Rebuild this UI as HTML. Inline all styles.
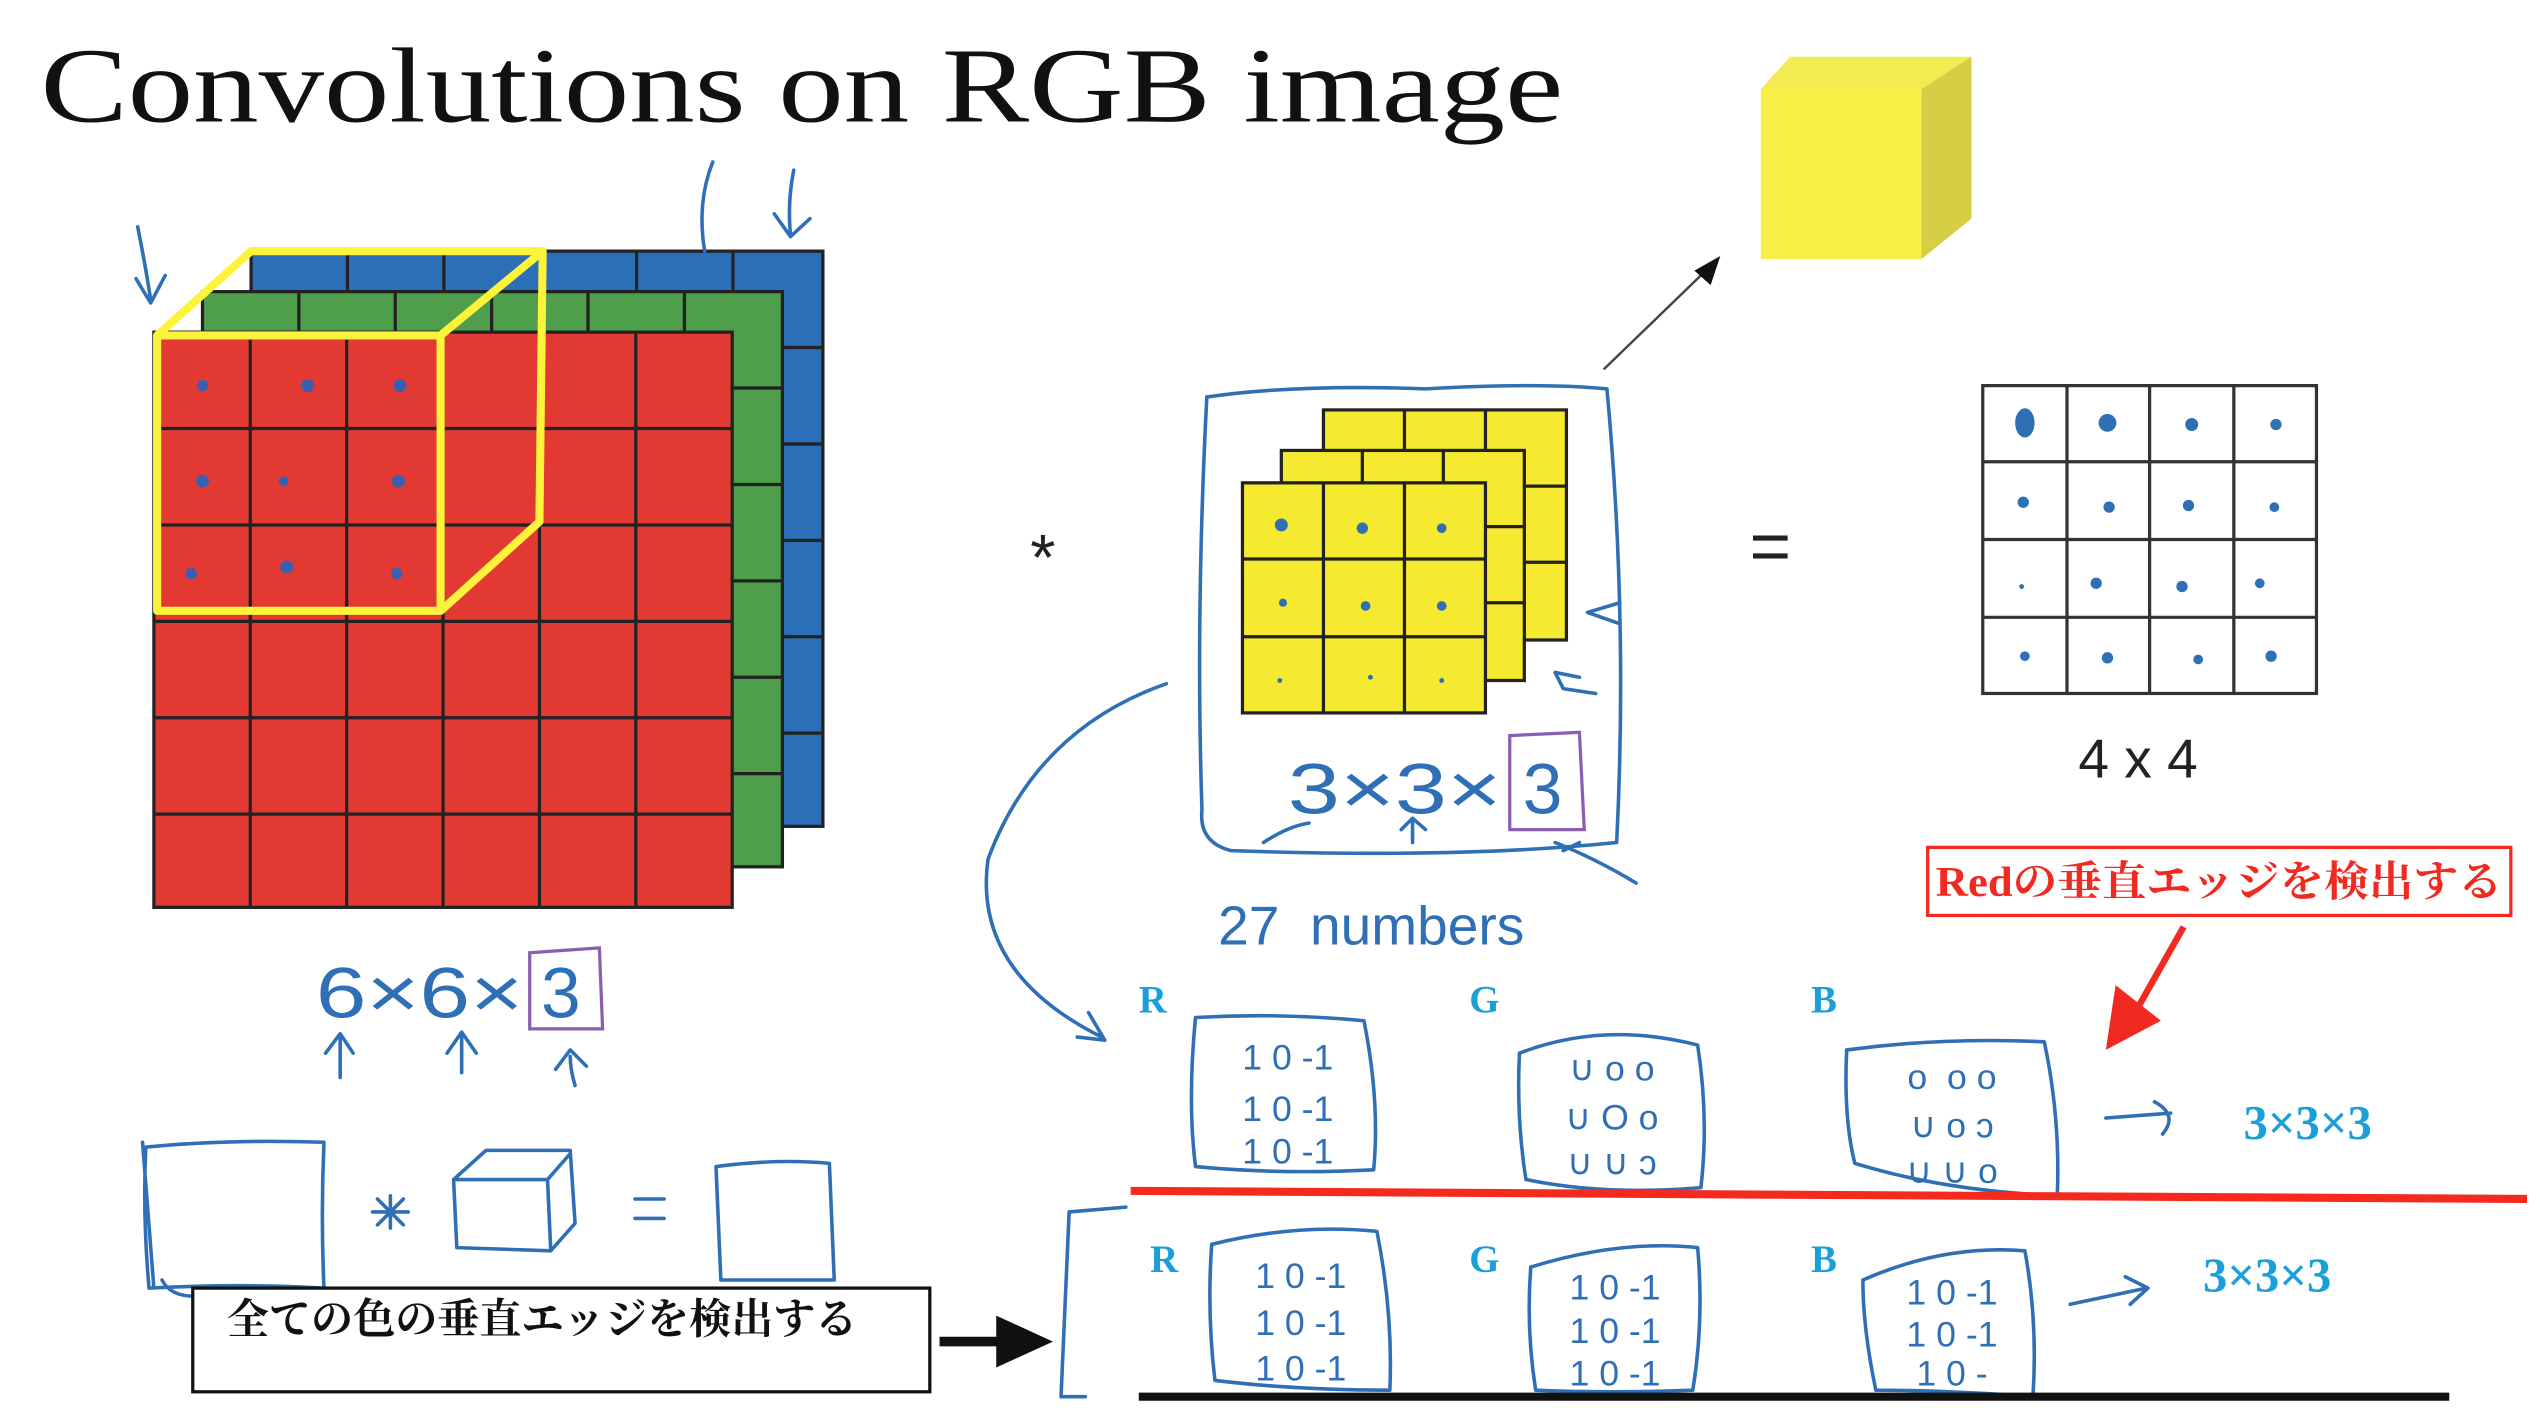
<!DOCTYPE html>
<html><head><meta charset="utf-8"><style>
html,body{margin:0;padding:0;background:#fff;width:2540px;height:1408px;overflow:hidden}
svg{display:block}
.hw{fill:none;stroke:#2e6fb5;stroke-width:2.2;stroke-linecap:round;stroke-linejoin:round}
.ht{font-family:"Liberation Sans",sans-serif;fill:#2e6fb5}
.cy{font-family:"Liberation Serif",serif;font-weight:bold;fill:#1a9fd9}
.gl{stroke:#222;stroke-width:2}
</style></head><body>
<svg width="2540" height="1408" viewBox="0 0 1568 869" preserveAspectRatio="none">
<text x="25" y="75" font-family="Liberation Serif,serif" font-size="66" fill="#111" textLength="940" lengthAdjust="spacingAndGlyphs">Convolutions on RGB image</text>
<!-- input volume -->
<rect x="155" y="155" width="353" height="355" style="fill:#2a6fb8" class="gl"/>
<path class="gl" fill="none" d="M214.5 155V180 M274 155V180 M333.5 155V180 M393 155V180 M452.5 155V180 M483 214.5H508 M483 274H508 M483 333.5H508 M483 393H508 M483 452.5H508"/>
<rect x="125" y="180" width="358" height="355" style="fill:#4f9e4b" class="gl"/>
<path class="gl" fill="none" d="M184.5 180V205 M244 180V205 M303.5 180V205 M363 180V205 M422.5 180V205 M452 239.5H483 M452 299H483 M452 358.5H483 M452 418H483 M452 477.5H483"/>
<rect x="95" y="205" width="357" height="355" style="fill:#e23a32" class="gl"/>
<path class="gl" fill="none" d="M154.5 205V560 M214 205V560 M273.5 205V560 M333 205V560 M392.5 205V560 M95 264.5H452 M95 324H452 M95 383.5H452 M95 443H452 M95 502.5H452"/>
<g fill="#3a5fb0">
<circle cx="125" cy="238" r="3.5"/><circle cx="190" cy="238" r="4"/><circle cx="247" cy="238" r="4"/>
<circle cx="125" cy="297" r="4"/><circle cx="175" cy="297" r="3"/><circle cx="246" cy="297" r="4"/>
<circle cx="118" cy="354" r="3.5"/><circle cx="177" cy="350" r="4"/><circle cx="245" cy="354" r="3.5"/>
</g>
<g fill="none" stroke="#fdf33a" stroke-width="5" stroke-linejoin="round">
<rect x="97" y="207" width="175" height="170"/>
<path d="M97 207 L155 155 L335 155 L333 322 L272 377 M272 207 L335 155"/>
</g>
<path class="hw" d="M85 140 Q90 165 93 185 M84 172 L93 187 L102 170"/>
<path class="hw" d="M440 100 Q430 125 435 155"/>
<path class="hw" d="M490 105 Q486 125 488 145 M478 132 L488 146 L500 135"/>
<text x="636" y="358" font-family="Liberation Sans,sans-serif" font-size="40" fill="#222">*</text>
<!-- filter -->
<path class="hw" d="M745 245 Q800 237 880 240 Q950 236 992 240 Q1005 380 998 520 Q900 530 760 525 Q740 520 742 500 Q738 380 745 245"/>
<rect x="817" y="253" width="150" height="142" style="fill:#f5ea30" class="gl"/>
<path class="gl" fill="none" d="M867 253V395 M917 253V395 M817 300H967 M817 347H967"/>
<rect x="791" y="278" width="150" height="142" style="fill:#f5ea30" class="gl"/>
<path class="gl" fill="none" d="M841 278V420 M891 278V420 M791 325H941 M791 372H941"/>
<rect x="767" y="298" width="150" height="142" style="fill:#f5ea30" class="gl"/>
<path class="gl" fill="none" d="M817 298V440 M867 298V440 M767 345H917 M767 393H917"/>
<g fill="#2e6fb5"><circle cx="791" cy="324" r="4"/><circle cx="841" cy="326" r="3.5"/><circle cx="890" cy="326" r="3"/><circle cx="792" cy="372" r="2.5"/><circle cx="843" cy="374" r="3"/><circle cx="890" cy="374" r="3"/><circle cx="790" cy="420" r="1.5"/><circle cx="846" cy="418" r="1.5"/><circle cx="890" cy="420" r="1.5"/></g>
<path class="hw" d="M1000 372 L980 378 L1000 385 M960 415 L965 425 L985 428 M960 415 L975 418"/>
<text x="795" y="502" class="ht" font-size="44" style="font-weight:300" textLength="132" lengthAdjust="spacingAndGlyphs">3×3×</text>
<text x="940" y="502" class="ht" font-size="44">3</text>
<path d="M932 454 L975 452 L978 512 L932 512 Z" fill="none" stroke="#8a5fb0" stroke-width="2"/>
<path class="hw" d="M780 520 Q795 510 808 508 M872 520 L872 505 M865 512 L872 505 L880 512 M960 520 Q985 530 1010 545 M965 525 L975 520"/>
<text x="752" y="583" class="ht" font-size="34">27 &#160;numbers</text>
<path d="M990 228 L1052 168" stroke="#444" stroke-width="1.5"/>
<path d="M1062 158 L1046 167 L1056 176 Z" fill="#111"/>
<!-- yellow cube -->
<path d="M1087 55 L1105 35 L1217 35 L1186 55 Z" fill="#f2ec52"/>
<path d="M1186 55 L1217 35 L1217 135 L1186 160 Z" fill="#d6cf45"/>
<rect x="1087" y="55" width="99" height="105" fill="#f8ee45"/>
<text x="1080" y="352" font-family="Liberation Sans,sans-serif" font-size="44" fill="#222">=</text>
<!-- output -->
<rect x="1224" y="238" width="206" height="190" fill="#fff" stroke="#333" stroke-width="2"/>
<path d="M1276 238 V428 M1327 238 V428 M1379 238 V428 M1224 285 H1430 M1224 333 H1430 M1224 381 H1430" stroke="#333" stroke-width="2"/>
<g fill="#2e6fb5"><ellipse cx="1250" cy="261" rx="6" ry="9"/><circle cx="1301" cy="261" r="5.5"/><circle cx="1353" cy="262" r="4"/><circle cx="1405" cy="262" r="3.5"/>
<circle cx="1249" cy="310" r="3.5"/><circle cx="1302" cy="313" r="3.5"/><circle cx="1351" cy="312" r="3.5"/><circle cx="1404" cy="313" r="3"/>
<circle cx="1248" cy="362" r="1.5"/><circle cx="1294" cy="360" r="3.5"/><circle cx="1347" cy="362" r="3.5"/><circle cx="1395" cy="360" r="3"/>
<circle cx="1250" cy="405" r="3"/><circle cx="1301" cy="406" r="3.5"/><circle cx="1357" cy="407" r="3"/><circle cx="1402" cy="405" r="3.5"/></g>
<text x="1283" y="480" font-family="Liberation Sans,sans-serif" font-size="34" fill="#222">4 x 4</text>
<!-- 6x6x3 -->
<text x="195" y="628" class="ht" font-size="44" style="font-weight:300" textLength="128" lengthAdjust="spacingAndGlyphs">6×6×</text>
<text x="334" y="628" class="ht" font-size="44">3</text>
<path d="M327 588 L370 585 L372 635 L327 635 Z" fill="none" stroke="#8a5fb0" stroke-width="2"/>
<path class="hw" d="M210 665 V640 M201 650 L210 638 L218 650 M285 662 V638 M276 650 L285 637 L294 650 M355 670 Q352 660 352 652 M343 660 L352 648 L362 658"/>
<!-- bottom left sketch -->
<path class="hw" d="M90 708 Q140 703 200 705 Q198 750 200 795 Q150 792 92 795 Q88 750 90 708 M88 705 L95 795 M120 800 Q105 800 100 790"/>
<path class="hw" d="M230 748 L252 748 M241 738 L241 758 M233 740 L249 756 M249 740 L233 756"/>
<path class="hw" d="M280 728 L300 710 L352 710 L355 755 L340 772 L282 770 Z M280 728 L338 728 L340 772 M338 728 L352 712"/>
<path class="hw" d="M392 740 L410 740 M392 752 L410 752"/>
<path class="hw" d="M442 720 Q480 715 512 718 L515 790 L445 790 Z"/>
<!-- black box -->
<rect x="119" y="795" width="455" height="64" fill="#fff" stroke="#111" stroke-width="2"/>
<text x="140" y="823" font-family="Liberation Serif,'Noto Serif CJK SC',serif" font-size="26" font-weight="bold" fill="#111">全ての色の垂直エッジを検出する</text>
<path d="M580 828 L622 828" stroke="#111" stroke-width="6"/>
<path d="M615 812 L650 828 L615 844 Z" fill="#111"/>
<path class="hw" d="M695 745 L660 748 L655 862 L670 862"/>
<!-- curve arrow -->
<path class="hw" d="M720 422 Q640 450 610 530 Q600 600 680 640 M665 640 L682 642 L672 625"/>
<!-- red label -->
<rect x="1190" y="523" width="360" height="42" fill="#fff" stroke="#f02a20" stroke-width="2"/>
<text x="1195" y="553" font-family="Liberation Serif,'Noto Serif CJK SC',serif" font-size="26" font-weight="bold" fill="#f02a20" textLength="350" lengthAdjust="spacingAndGlyphs">Redの垂直エッジを検出する</text>
<path d="M1348 572 L1318 625" stroke="#f02a20" stroke-width="4"/>
<path d="M1300 648 L1306 608 L1334 630 Z" fill="#f02a20"/>
<!-- RGB rows -->
<g class="cy" font-size="24">
<text x="703" y="625">R</text><text x="907" y="625">G</text><text x="1118" y="625">B</text>
<text x="710" y="785">R</text><text x="907" y="785">G</text><text x="1118" y="785">B</text>
</g>
<path class="hw" d="M738 628 Q790 625 842 630 Q852 680 848 722 Q790 725 738 720 Q733 680 738 628"/>
<path class="hw" d="M938 650 Q990 630 1048 645 Q1055 690 1050 733 Q990 738 942 728 Q936 690 938 650"/>
<path class="hw" d="M1140 648 Q1200 640 1262 643 Q1272 690 1270 738 Q1200 735 1145 718 Q1138 690 1140 648"/>
<path class="hw" d="M748 768 Q800 755 850 760 Q860 810 858 858 Q800 858 750 852 Q745 810 748 768"/>
<path class="hw" d="M945 782 Q1000 765 1048 770 Q1052 815 1045 858 Q995 860 948 858 Q942 820 945 782"/>
<path class="hw" d="M1150 790 Q1200 768 1250 772 Q1258 815 1255 862 Q1200 858 1158 858 Q1150 820 1150 790"/>
<g class="ht" font-size="22" text-anchor="middle">
<text x="795" y="660">1 0 -1</text><text x="795" y="692">1 0 -1</text><text x="795" y="718">1 0 -1</text>
<text x="995" y="667">∪ o o</text><text x="995" y="697">∪ O o</text><text x="995" y="725">∪ ∪ ɔ</text>
<text x="1205" y="672">o &#160;o o</text><text x="1205" y="702">∪ o ɔ</text><text x="1205" y="730">∪ ∪ o</text>
<text x="803" y="795">1 0 -1</text><text x="803" y="824">1 0 -1</text><text x="803" y="852">1 0 -1</text>
<text x="997" y="802">1 0 -1</text><text x="997" y="829">1 0 -1</text><text x="997" y="855">1 0 -1</text>
<text x="1205" y="805">1 0 -1</text><text x="1205" y="831">1 0 -1</text><text x="1205" y="855">1 0 -</text>
</g>
<path class="hw" d="M1300 690 L1340 687 M1330 680 Q1345 688 1335 700"/>
<path class="hw" d="M1278 805 L1325 795 M1312 788 L1326 795 L1315 805"/>
<g class="cy" font-size="30"><text x="1385" y="703">3×3×3</text><text x="1360" y="797">3×3×3</text></g>
<path d="M698 735 L1560 740" stroke="#f52a1e" stroke-width="5"/>
<path d="M703 862 L1512 862" stroke="#111" stroke-width="5"/>
</svg>
</body></html>
